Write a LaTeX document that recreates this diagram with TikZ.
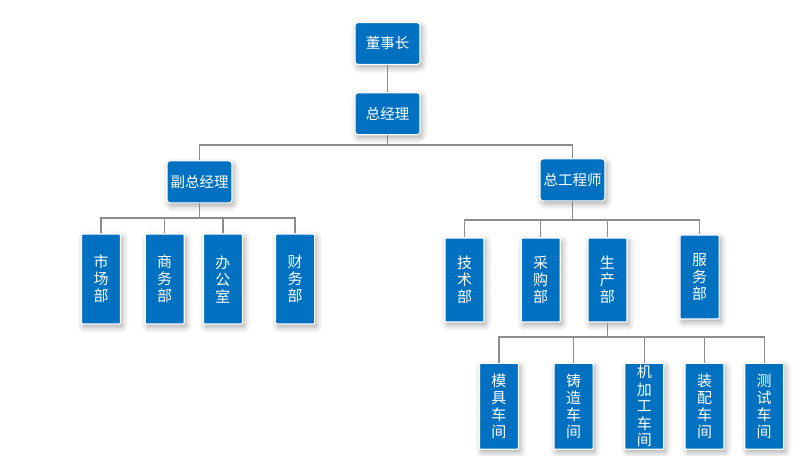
\documentclass[tikz,border=0pt]{standalone}
\usepackage{fontspec}
\newfontfamily\cjk{Noto Sans CJK SC}
\usetikzlibrary{positioning,shadows.blur}
\definecolor{cBox}{HTML}{0070C0}
\definecolor{cLine}{HTML}{8C8C8C}

\begin{document}
\begin{tikzpicture}[
  box/.style={draw=white,line width=1.2pt,fill=cBox,text=white,inner sep=2pt,
    blur shadow={shadow xshift=2pt,shadow yshift=-3pt,shadow blur radius=6pt,shadow opacity=35}},
  head/.style={box,rounded corners=3pt,minimum width=65pt,minimum height=42pt,font=\cjk\fontsize{14.5}{17}\selectfont},
  dept/.style={box,rounded corners=1pt,minimum width=39pt,minimum height=84pt,align=center,font=\cjk\fontsize{15}{17}\selectfont},
  shop/.style={dept,minimum height=86pt},
  conn/.style={draw=cLine,line width=1.3pt}]
  \useasboundingbox (0,0) rectangle (800pt,455pt);
  % top of the chart
  \node[head] (dsz) at (387.5pt,411.5pt) {董事长};
  \node[head, below=27pt of dsz] (zjl) {总经理};
  \node[head, below=25pt of zjl, xshift=-188pt] (fzjl) {副总经理};
  \node[head, below=23pt of zjl, xshift=185pt] (zgcs) {总工程师};
  % departments under the deputy manager
  \node[dept, minimum height=90pt, below=30pt of fzjl, xshift=-98.5pt] (sc) {市\\场\\部};
  \node[dept, minimum height=90pt, right=23.5pt of sc] (sw) {商\\务\\部};
  \node[dept, minimum height=90pt, right=18pt of sw] (bgs) {办\\公\\室};
  \node[dept, minimum height=90pt, right=32pt of bgs] (cw) {财\\务\\部};
  % departments under the chief engineer
  \node[dept, below=36pt of zgcs, xshift=-108pt] (js) {技\\术\\部};
  \node[dept, right=36pt of js] (cg) {采\\购\\部};
  \node[dept, right=26.5pt of cg] (scb) {生\\产\\部};
  \node[dept, right=52pt of scb, yshift=3pt] (fw) {服\\务\\部};
  % workshops
  \node[shop, below=40pt of scb, xshift=-108.5pt] (mj) {模\\具\\车\\间};
  \node[shop, right=34.5pt of mj] (zz) {铸\\造\\车\\间};
  \node[shop, right=30.5pt of zz] (jjg) {机\\加\\工\\车\\间};
  \node[shop, right=20pt of jjg] (zp) {装\\配\\车\\间};
  \node[shop, right=19.5pt of zp] (cs) {测\\试\\车\\间};
  % connector levels
  \coordinate (busA) at (0,310pt);
  \coordinate (busB) at (0,237pt);
  \coordinate (busC) at (0,235pt);
  \coordinate (busD) at (0,118pt);
  \draw[conn] (dsz) -- (zjl);
  \foreach \n in {fzjl,zgcs}
    \draw[conn] (zjl.south) |- (busA -| \n.north) -- (\n.north);
  \foreach \n in {sc,sw,bgs,cw}
    \draw[conn] (fzjl.south) |- (busB -| \n.north) -- (\n.north);
  \foreach \n in {js,cg,scb,fw}
    \draw[conn] (zgcs.south) |- (busC -| \n.north) -- (\n.north);
  \foreach \n in {mj,zz,jjg,zp,cs}
    \draw[conn] (scb.south) |- (busD -| \n.north) -- (\n.north);
\end{tikzpicture}
\end{document}
